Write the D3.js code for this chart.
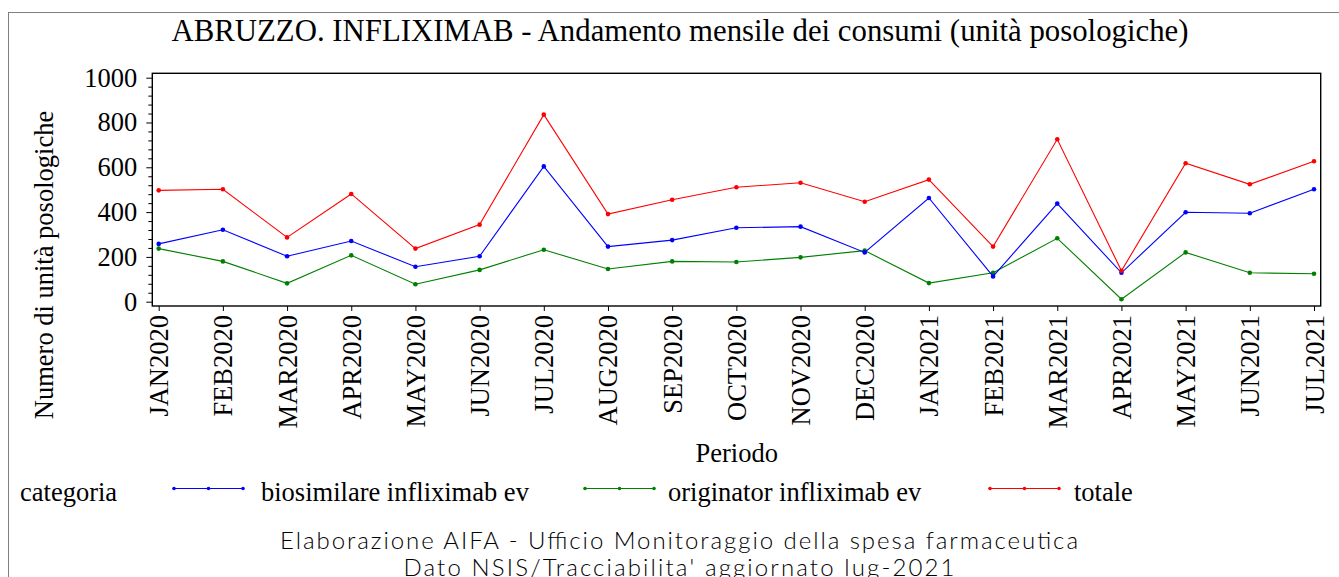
<!DOCTYPE html>
<html><head><meta charset="utf-8">
<script src="https://cdn.jsdelivr.net/npm/d3@7"></script>
<style>body{margin:0;background:#fff;overflow:hidden} svg{display:block}</style>
</head><body><svg id="c" width="1339" height="577"></svg>
<script>
const months = ["JAN2020","FEB2020","MAR2020","APR2020","MAY2020","JUN2020","JUL2020","AUG2020","SEP2020","OCT2020","NOV2020","DEC2020","JAN2021","FEB2021","MAR2021","APR2021","MAY2021","JUN2021","JUL2021"];
const biosimilare = [258,321,203,271,156,203,604,246,275,330,335,220,463,113,438,129,399,395,502];
const originator  = [237,180,82,207,78,142,232,146,180,177,198,228,83,129,283,11,220,129,125];
const totale      = [497,502,287,481,237,344,835,391,455,511,531,446,545,246,725,138,618,524,627];
const yTicks = [0,200,400,600,800,1000];
const seriesNames = ["biosimilare infliximab ev","originator infliximab ev","totale"];
const seriesColors = ["#0000ff","#008000","#ff0000"];
const titleText = "ABRUZZO. INFLIXIMAB - Andamento mensile dei consumi (unità posologiche)";
const footer = ["Elaborazione AIFA - Ufficio Monitoraggio della spesa farmaceutica","Dato NSIS/Tracciabilita' aggiornato lug-2021"];

const svg = d3.select("#c");
const serif = "'Liberation Serif','Times New Roman',serif";
const FS = 26.5;
const P = {l:152.3, r:1320.7, t:73.3, b:306};

// outer frame
svg.append("rect").attr("x",8.5).attr("y",12.5).attr("width",1400).attr("height",700)
  .attr("fill","none").attr("stroke","#808080").attr("stroke-width",1);

// title
svg.append("text").attr("x",680).attr("y",40.5).attr("text-anchor","middle")
  .attr("font-family",serif).attr("font-size",30.8).attr("fill","#000").text(titleText);

const x = d3.scalePoint().domain(months).range([158.7,1314]);
const y = d3.scaleLinear().domain([-19.2,1019.6]).range([P.b,P.t]);

// y axis major
const gy = svg.append("g").attr("transform",`translate(${P.l},0)`)
  .call(d3.axisLeft(y).tickValues(yTicks).tickSize(6).tickPadding(9).tickFormat(d3.format("d")));
gy.select(".domain").remove();
gy.selectAll("text").attr("font-family",serif).attr("font-size",FS).attr("fill","#000");
gy.selectAll("line").attr("stroke","#000");
// y minor
const minor = d3.range(40,1000,40).filter(v=>v%200!==0);
const gym = svg.append("g").attr("transform",`translate(${P.l},0)`)
  .call(d3.axisLeft(y).tickValues(minor).tickSize(4).tickFormat(""));
gym.select(".domain").remove();
gym.selectAll("line").attr("stroke","#000");

// x axis
const gx = svg.append("g").attr("transform",`translate(0,${P.b})`)
  .call(d3.axisBottom(x).tickSize(5).tickPadding(0));
gx.select(".domain").remove();
gx.selectAll("line").attr("stroke","#000");
gx.selectAll("text").attr("font-family",serif).attr("font-size",FS).attr("fill","#000")
  .attr("text-anchor","end").attr("dy",null)
  .attr("transform","translate(9,9) rotate(-90)").attr("x",0).attr("y",0);

// plot frame
svg.append("rect").attr("x",P.l).attr("y",P.t).attr("width",P.r-P.l).attr("height",P.b-P.t)
  .attr("fill","none").attr("stroke","#000").attr("stroke-width",1.4);

// axis titles
svg.append("text").attr("transform","translate(53,265) rotate(-90)").attr("text-anchor","middle")
  .attr("font-family",serif).attr("font-size",FS).attr("fill","#000").text("Numero di unità posologiche");
svg.append("text").attr("x",736.7).attr("y",462).attr("text-anchor","middle")
  .attr("font-family",serif).attr("font-size",FS).attr("fill","#000").text("Periodo");

// series
const allSeries = [biosimilare, originator, totale];
const line = d3.line().x((d,i)=>x(months[i])).y(d=>y(d));
[1,0,2].forEach(k=>{
  const g = svg.append("g");
  g.append("path").datum(allSeries[k]).attr("d",line).attr("fill","none")
    .attr("stroke",seriesColors[k]).attr("stroke-width",1.1);
  g.selectAll("circle").data(allSeries[k]).join("circle")
    .attr("cx",(d,i)=>x(months[i])).attr("cy",d=>y(d)).attr("r",2.3).attr("fill",seriesColors[k]);
});

// legend
svg.append("text").attr("x",20).attr("y",501).attr("font-family",serif).attr("font-size",FS)
  .attr("fill","#000").text("categoria");
const legX = [174, 585, 990];
const legTextX = [261, 668, 1074];
seriesNames.forEach((n,k)=>{
  const g = svg.append("g");
  g.append("line").attr("x1",legX[k]).attr("x2",legX[k]+69).attr("y1",488.5).attr("y2",488.5)
    .attr("stroke",seriesColors[k]).attr("stroke-width",1.1);
  [0,34.5,69].forEach(dx=>g.append("circle").attr("cx",legX[k]+dx).attr("cy",488.5).attr("r",1.8).attr("fill",seriesColors[k]));
  g.append("text").attr("x",legTextX[k]).attr("y",501).attr("font-family",serif).attr("font-size",FS)
    .attr("fill","#000").text(n);
});

// footer
const footLen = [798, 551];
footer.forEach((t,i)=>{
  svg.append("text").attr("x",679).attr("y",549+i*27).attr("text-anchor","middle")
    .attr("font-family","Lato,'DejaVu Sans',sans-serif").attr("font-weight",300)
    .attr("font-size",24).attr("textLength",footLen[i]).attr("lengthAdjust","spacing")
    .attr("fill","#000").text(t);
});
</script></body></html>
